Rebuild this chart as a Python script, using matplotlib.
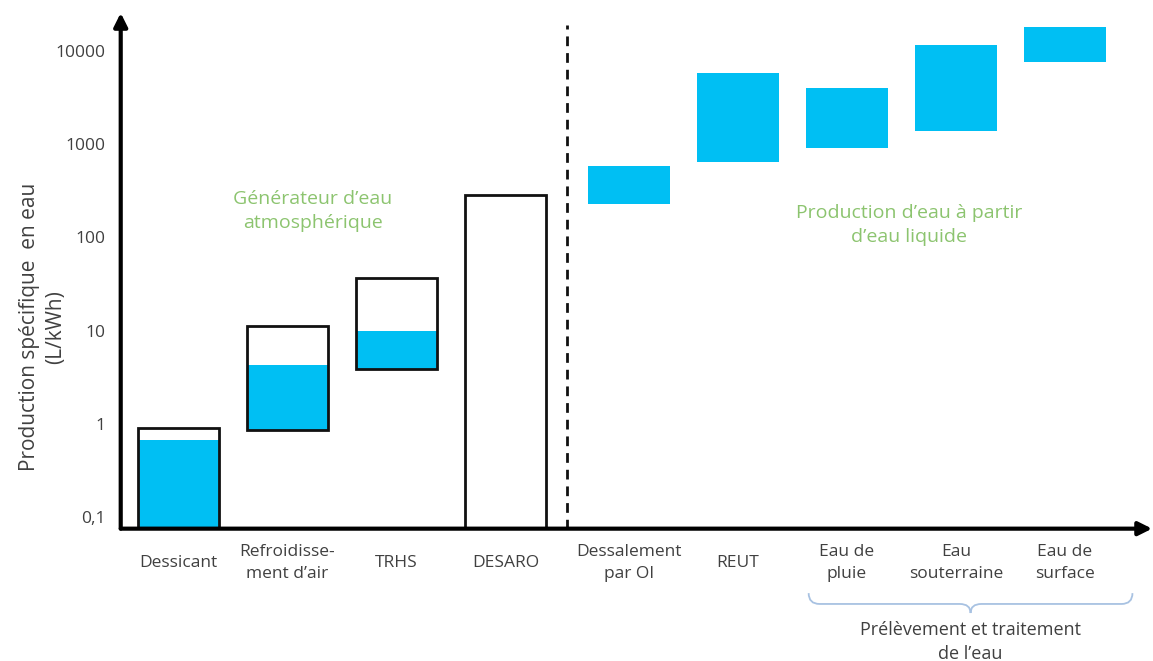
import numpy as np
import matplotlib.pyplot as plt
from matplotlib.path import Path
from matplotlib.patches import PathPatch
from matplotlib.transforms import blended_transform_factory

plt.rcParams["font.family"] = ["Open Sans", "DejaVu Sans"]

# ---- data ----
categories = ["Dessicant", "Refroidisse-\nment d’air", "TRHS", "DESARO",
              "Dessalement\npar OI", "REUT", "Eau de\npluie", "Eau\nsouterraine",
              "Eau de\nsurface"]

# atmospheric generators: outlined range (min, max) and filled range
atmo_low = [0.0755, 0.86, 3.9, 0.0755]
atmo_high = [0.90, 11.2, 36.5, 285]
atmo_fill_low = [0.0755, 0.86, 3.9]
atmo_fill_high = [0.67, 4.26, 10.0]

# liquid water sources: filled range (min, max)
liquid_low = [228, 638, 915, 1380, 7530]
liquid_high = [587, 5780, 3960, 11500, 18100]

yticks = [0.1, 1, 10, 100, 1000, 10000]
ytick_labels = ["0,1", "1", "10", "100", "1000", "10000"]

CYAN = "#00BFF3"
GREEN = "#8CC46F"
GREY = "#404040"

# ---- layout ----
gap = 0.13  # extra space between the two groups
pos = np.arange(len(categories)) + np.where(np.arange(len(categories)) >= 4, gap, 0)
width = 0.75

fig = plt.figure(figsize=(11.53, 6.61), dpi=100)
ax = fig.add_axes([0.1047, 0.2002, 0.8945, 0.7802])
ax.set_yscale("log")
ax.set_xlim(-0.53, 8.93)
ax.set_ylim(0.0755, 25400)

# atmospheric water generators
n_fill = len(atmo_fill_low)
ax.bar(pos[:n_fill], np.array(atmo_fill_high) - np.array(atmo_fill_low),
       bottom=atmo_fill_low, width=width, color=CYAN, linewidth=0, zorder=2)
ax.bar(pos[:4], np.array(atmo_high) - np.array(atmo_low), bottom=atmo_low,
       width=width, facecolor="none", edgecolor="#111111", linewidth=2.0, zorder=3)

# liquid water sources
ax.bar(pos[4:], np.array(liquid_high) - np.array(liquid_low), bottom=liquid_low,
       width=width, color=CYAN, linewidth=0, zorder=2)

# separator between the two groups
sep = (pos[3] + pos[4]) / 2
ax.plot([sep, sep], [0.0755, 19000], color="#111111", lw=2, ls=(0, (3.5, 2.5)), zorder=1)

# axes with arrow heads
for s in ax.spines.values():
    s.set_visible(False)
arrow = dict(arrowstyle="-|>", lw=3, color="black", mutation_scale=20,
             shrinkA=0, shrinkB=0)
ax.annotate("", xy=(0, 1), xytext=(0, 0), xycoords="axes fraction", arrowprops=arrow)
ax.annotate("", xy=(1, 0), xytext=(0, 0), xycoords="axes fraction", arrowprops=arrow)

ax.set_yticks(yticks)
ax.set_yticklabels(ytick_labels)
ax.yaxis.set_minor_locator(plt.NullLocator())
ax.tick_params(axis="y", length=0, pad=11, labelsize=12.5, labelcolor=GREY)

ax.set_xticks(pos)
ax.set_xticklabels(categories, linespacing=1.5)
ax.tick_params(axis="x", length=0, pad=25, labelsize=12.5, labelcolor=GREY)
for lab in ax.get_xticklabels():
    lab.set_verticalalignment("center")

fig.text(0.037, 0.505, "Production spécifique  en eau\n(L/kWh)", rotation=90,
         ha="center", va="center", fontsize=15, color=GREY, linespacing=1.3)

# group captions
ax.text(1.23, 192, "Générateur d’eau\natmosphérique", color=GREEN, fontsize=14,
        ha="center", va="center", linespacing=1.45)
ax.text(6.70, 136, "Production d’eau à partir\nd’eau liquide",
        color=GREEN, fontsize=14, ha="center", va="center", linespacing=1.45)

# curly brace under the last three sources
trans = blended_transform_factory(ax.transData, ax.transAxes)
xl, xr = pos[6] - 0.35, pos[8] + 0.62
xc = (xl + xr) / 2
y0, ym, yt = -0.125, -0.146, -0.1635
r = 0.1
verts = [(xl, y0), (xl, ym), (xl + r, ym), (xc - r, ym), (xc, ym), (xc, yt),
         (xc, ym), (xc + r, ym), (xr - r, ym), (xr, ym), (xr, y0)]
codes = [Path.MOVETO, Path.CURVE3, Path.CURVE3, Path.LINETO, Path.CURVE3, Path.CURVE3,
         Path.CURVE3, Path.CURVE3, Path.LINETO, Path.CURVE3, Path.CURVE3]
ax.add_patch(PathPatch(Path(verts, codes), transform=trans, facecolor="none",
                       edgecolor="#A8C2E2", lw=1.3, clip_on=False))
ax.text(xc, -0.22, "Prélèvement et traitement\nde l’eau", transform=trans,
        ha="center", va="center", fontsize=13, color=GREY, linespacing=1.4)

fig.savefig("out.png", dpi=100)
